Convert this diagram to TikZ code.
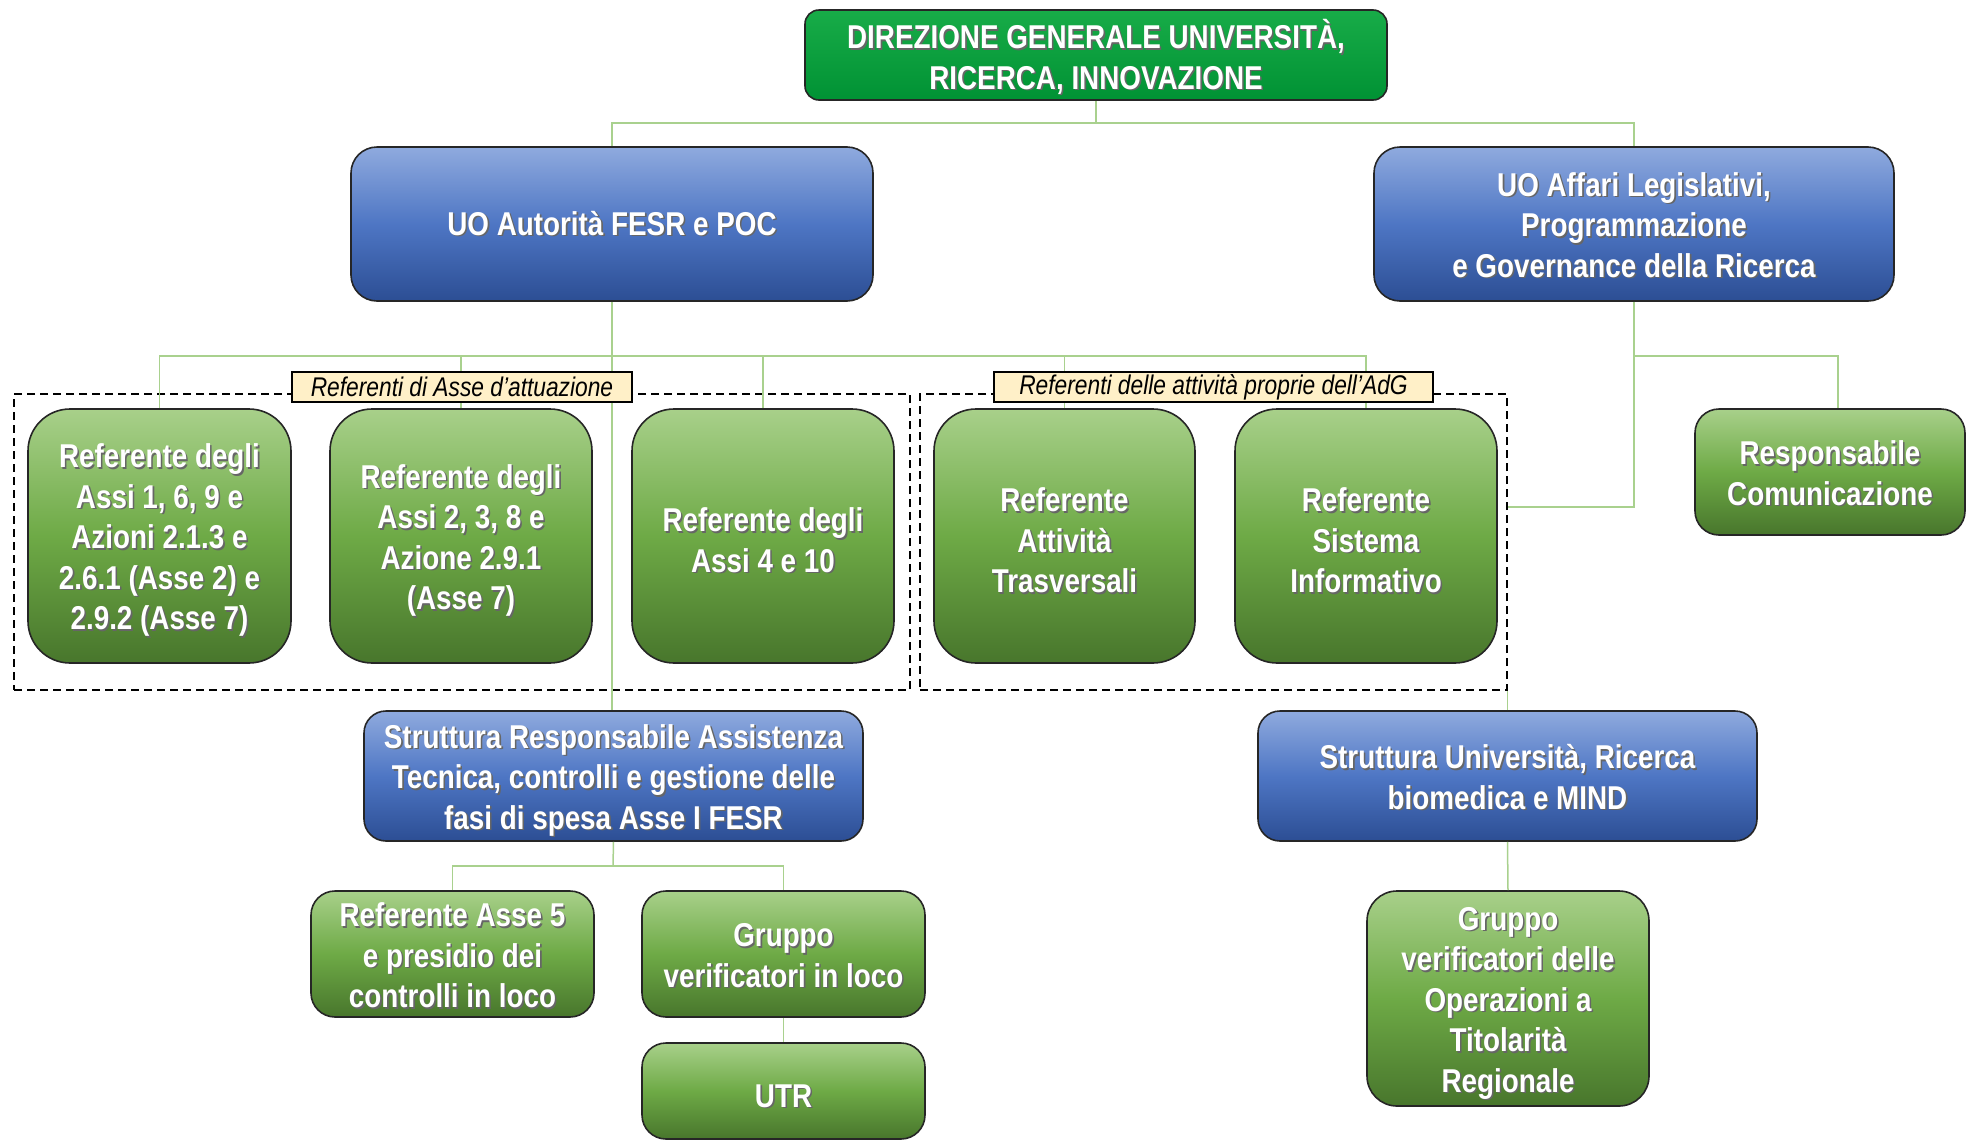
\documentclass[tikz,border=0pt]{standalone}
\usepackage{fontspec}
\setmainfont{Liberation Sans}[FakeStretch=0.843]
\definecolor{blueT}{RGB}{143,170,222}
\definecolor{blueM}{RGB}{78,118,196}
\definecolor{blueB}{RGB}{44,78,148}
\definecolor{greenT}{RGB}{168,208,138}
\definecolor{greenM}{RGB}{110,170,70}
\definecolor{greenB}{RGB}{72,118,44}
\definecolor{topT}{RGB}{24,172,72}
\definecolor{topB}{RGB}{0,146,52}
\definecolor{lineg}{RGB}{169,209,142}
\definecolor{labfill}{RGB}{255,240,200}
\newcommand\boxfont{\bfseries\fontsize{33}{40.5}\selectfont}
\newcommand\sh[1]{\leavevmode\rlap{\kern1.6pt\raisebox{-1.6pt}{\textcolor{black!60}{#1}}}#1}
\newcommand\shf[1]{\rule{0pt}{34pt}\sh{#1}}
\newcommand\shs[1]{\rule{0pt}{28pt}\sh{#1}}
\begin{document}
\begin{tikzpicture}[x=1pt,y=-1pt,
  conn/.style={draw=lineg, line width=1.5pt},
  basebox/.style={draw=black!85, line width=1.6pt, text=white, align=center, font=\boxfont, inner sep=0pt},
  topbox/.style={basebox, rounded corners=14pt, top color=topT, bottom color=topB},
  bluebox/.style={basebox, rounded corners=26pt, top color=blueT, bottom color=blueB, middle color=blueM},
  greenbox/.style={basebox, rounded corners=24pt, top color=greenT, bottom color=greenB, middle color=greenM},
  bigbox/.style={greenbox, rounded corners=42pt},
  frame/.style={draw=black, line width=1.5pt, dash pattern=on 8pt off 5pt, inner sep=0pt},
  labbox/.style={draw=black, line width=1.5pt, fill=labfill, inner sep=0pt, font=\itshape\fontsize{27}{30}\selectfont}
]
\useasboundingbox (0,0) rectangle (1966,1141);

% frames
\node[frame, minimum width=896pt, minimum height=296pt] (g1) at (462,542) {};
\node[frame, minimum width=587pt, minimum height=296pt] (g2) at (1213.5,542) {};

% boxes
\node[topbox, minimum width=582pt, minimum height=90pt] (top) at (1096,55)
  {\rule{0pt}{35pt}\sh{DIREZIONE GENERALE UNIVERSITÀ,}\\\sh{RICERCA, INNOVAZIONE}};
\node[bluebox, minimum width=522pt, minimum height=154pt] (uo1) at (612,224)
  {\sh{UO Autorità FESR e POC}};
\node[bluebox, minimum width=520pt, minimum height=154pt] (uo2) at (1634,224)
  {\rule{0pt}{27pt}\sh{UO Affari Legislativi,}\\\sh{Programmazione}\\\sh{e Governance della Ricerca}};

\node[bigbox, minimum width=263pt, minimum height=254pt] (b1) at (159.5,536)
  {\shf{Referente degli}\\\sh{Assi 1, 6, 9 e}\\\sh{Azioni 2.1.3 e}\\\sh{2.6.1 (Asse 2) e}\\\sh{2.9.2 (Asse 7)}};
\node[bigbox, minimum width=262pt, minimum height=254pt] (b2) at (461,536)
  {\shf{Referente degli}\\\sh{Assi 2, 3, 8 e}\\\sh{Azione 2.9.1}\\\sh{(Asse 7)}};
\node[bigbox, minimum width=262pt, minimum height=254pt] (b3) at (763,536)
  {\shf{Referente degli}\\\sh{Assi 4 e 10}};
\node[bigbox, minimum width=261pt, minimum height=254pt] (b4) at (1064.5,536)
  {\shf{Referente}\\\sh{Attività}\\\sh{Trasversali}};
\node[bigbox, minimum width=262pt, minimum height=254pt] (b5) at (1366,536)
  {\shf{Referente}\\\sh{Sistema}\\\sh{Informativo}};
\node[greenbox, minimum width=270pt, minimum height=126pt] (rc) at (1830,472)
  {\shs{Responsabile}\\\sh{Comunicazione}};

\node[bluebox, rounded corners=22pt, minimum width=499pt, minimum height=130pt] (sr) at (613.5,776)
  {\shf{Struttura Responsabile Assistenza}\\\sh{Tecnica, controlli e gestione delle}\\\sh{fasi di spesa Asse I FESR}};
\node[bluebox, rounded corners=22pt, minimum width=499pt, minimum height=130pt] (su) at (1507.5,776)
  {\shs{Struttura Università, Ricerca}\\\sh{biomedica e MIND}};

\node[greenbox, minimum width=283pt, minimum height=126pt] (a5) at (452.5,954)
  {\shs{Referente Asse 5}\\\sh{e presidio dei}\\\sh{controlli in loco}};
\node[greenbox, minimum width=283pt, minimum height=126pt] (gl) at (783.5,954)
  {\shs{Gruppo}\\\sh{verificatori in loco}};
\node[greenbox, minimum width=283pt, minimum height=96pt] (utr) at (783.5,1091)
  {\shf{UTR}};
\node[greenbox, rounded corners=30pt, minimum width=282pt, minimum height=215pt] (gv) at (1508,998.5)
  {\shf{Gruppo}\\\sh{verificatori delle}\\\sh{Operazioni a}\\\sh{Titolarità}\\\sh{Regionale}};

% junctions
\coordinate (j1) at (1096,123);
\coordinate (j2) at (612,356);
\coordinate (j3) at (1634,356);
\coordinate (k) at (1634,507);
\coordinate (j4) at (613,866);

% connectors
\draw[conn] (top.south) -- (j1);
\draw[conn] (uo1.north) |- (j1) -| (uo2.north);
\draw[conn] (uo1.south) -- (uo1.south |- sr.north);
\draw[conn] (b1.north) |- (j2) -| (b5.north);
\draw[conn] (b2.north) -- (b2.north |- j2);
\draw[conn] (b3.north) -- (b3.north |- j2);
\draw[conn] (b4.north) -- (b4.north |- j2);
\draw[conn] (uo2.south) -- (k) -- (k -| g2.east);
\draw[conn] (j3) -| ([xshift=8pt]rc.north);
\draw[conn] (su.north) -- (su.north |- g2.south);
\draw[conn] (su.south) -- (gv.north);
\draw[conn] (sr.south) -- (j4);
\draw[conn] (a5.north) |- (j4) -| (gl.north);
\draw[conn] (gl.south) -- (utr.north);

% labels
\node[labbox, minimum width=340pt, minimum height=30pt] (lab1) at (462,387) {Referenti di Asse d’attuazione};
\node[labbox, minimum width=439pt, minimum height=30pt] (lab2) at (1213.5,387) {Referenti delle attività proprie dell’AdG};
\end{tikzpicture}
\end{document}
